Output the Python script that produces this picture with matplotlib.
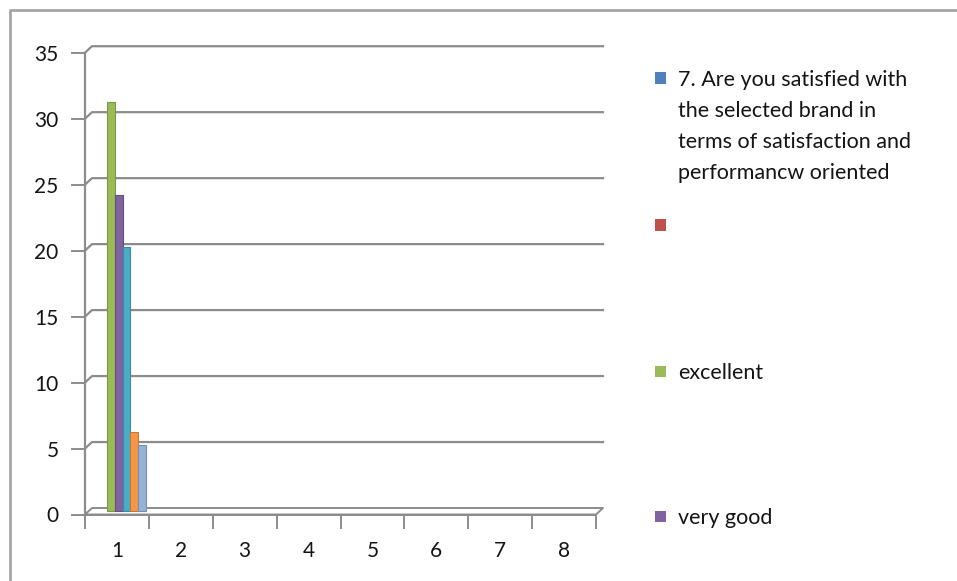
import matplotlib
matplotlib.use("Agg")
import matplotlib.pyplot as plt
from matplotlib.patches import Rectangle
from matplotlib.lines import Line2D

plt.rcParams['font.family'] = ['Lato', 'DejaVu Sans']

# ---- data ----
categories = [1, 2, 3, 4, 5, 6, 7, 8]
series_names = [
    "7. Are you satisfied with\nthe selected brand in\nterms of satisfaction and\nperformancw oriented",
    "",
    "excellent",
    "very good",
    "good",
    "average",
    "poor",
]
series_values = [0, 0, 31, 24, 20, 6, 5]   # all responses fall in category 1
series_colors = ["#4F81BD", "#C0504D", "#9BBB59", "#8064A2",
                 "#4BACC6", "#F79646", "#95B3D7"]
y_ticks = [0, 5, 10, 15, 20, 25, 30, 35]

W, H = 957, 581
fig = plt.figure(figsize=(W / 100, H / 100), dpi=100)

# plot area in pixels (front plane)
x0_px, x1_px = 85, 596
y0_px, y1_px = 514.5, 52.7
ax = fig.add_axes([x0_px / W, 1 - y0_px / H, (x1_px - x0_px) / W, (y0_px - y1_px) / H])
ax.set_xlim(0.5, 8.5)
ax.set_ylim(0, 35)
ax.patch.set_alpha(0)

# depth of the pseudo-3D walls, in data units
px_x = 8.0 / (x1_px - x0_px)
px_y = 35.0 / (y0_px - y1_px)
dx, dy = 7 * px_x, 6.5 * px_y

grid_c = "#8C8C8C"
text_c = "#141414"
# back-wall gridlines with the diagonal stub from the axis
for v in y_ticks[1:]:
    ax.plot([0.5, 0.5 + dx, 8.5 + dx], [v, v + dy, v + dy],
            color=grid_c, lw=1.6, clip_on=False, zorder=1)
# floor
ax.plot([0.5, 8.5, 8.5 + dx, 0.5 + dx, 0.5], [0, 0, dy, dy, 0],
        color=grid_c, lw=1.4, clip_on=False, zorder=1)

# bars, sitting half-way into the depth
n = len(series_values)
bw = 7.7 * px_x
off_x, off_y = dx / 2 - 0.025, dy / 2
for i, (val, col) in enumerate(zip(series_values, series_colors)):
    if val <= 0:
        continue
    xl = categories[0] + (i - n / 2) * bw + off_x
    edge = [c * 0.8 for c in matplotlib.colors.to_rgb(col)]
    ax.add_patch(Rectangle((xl, off_y), bw, val, facecolor=col,
                           edgecolor=edge, lw=0.8, zorder=3, clip_on=False))

# axes styling
for s in ["top", "right", "bottom"]:
    ax.spines[s].set_visible(False)
ax.spines["left"].set_color(grid_c)
ax.spines["left"].set_linewidth(1.6)
ax.set_yticks(y_ticks)
ax.tick_params(axis="y", length=10, width=1.4, color=grid_c, pad=9,
               labelsize=15, labelcolor=text_c)
ax.set_xticks([c - 0.5 for c in categories] + [8.5])
ax.set_xticklabels([])
ax.set_xticks(categories, minor=True)
ax.set_xticklabels([str(c) for c in categories], minor=True)
ax.tick_params(axis="x", which="major", length=10, width=1.4, color=grid_c, direction="out")
ax.tick_params(axis="x", which="minor", length=0, pad=19, labelsize=15, labelcolor=text_c)
# bottom axis line
ax.plot([0.5, 8.5], [0, 0], color=grid_c, lw=1.4, clip_on=False, zorder=2)

# legend (only the first four entries fit in the chart area)
leg_x_sq, leg_x_txt = 655, 678
leg_y = [78, 225, 371, 516]
for name, col, yc in zip(series_names[:4], series_colors[:4], leg_y):
    fig.patches.append(Rectangle((leg_x_sq / W, 1 - (yc + 5.5) / H), 11 / W, 11 / H,
                                 transform=fig.transFigure, facecolor=col,
                                 edgecolor="none"))
    if name:
        fig.text(leg_x_txt / W, 1 - (yc - 8) / H, name, ha="left", va="top",
                 fontsize=15.5, color=text_c, linespacing=1.68)

# outer chart frame
fig.lines.append(Line2D([10 / W, 10 / W, 1.0], [0.0, 1 - 10 / H, 1 - 10 / H],
                        transform=fig.transFigure, color="#A6A6A6", lw=2))

fig.savefig("out.png", dpi=100)
